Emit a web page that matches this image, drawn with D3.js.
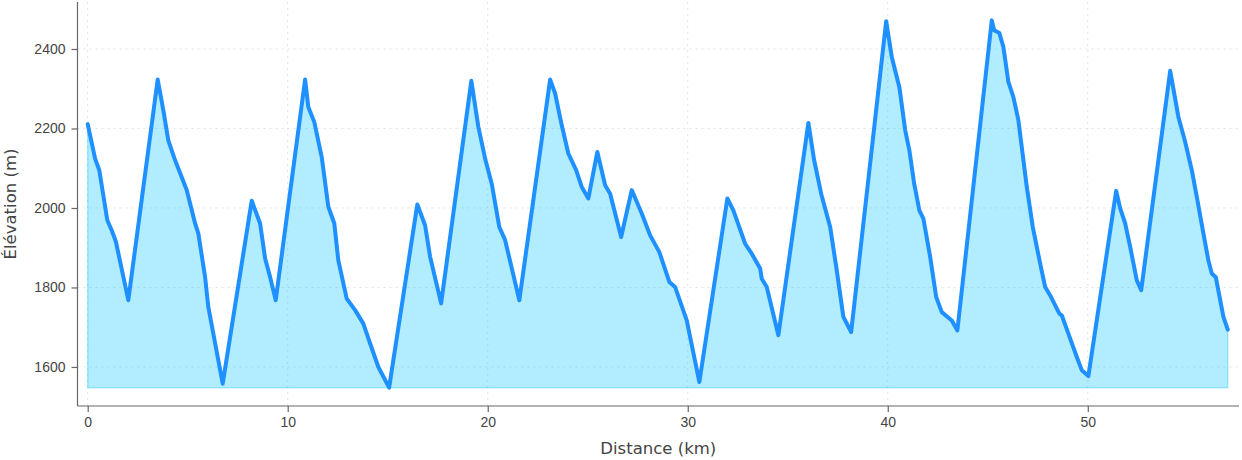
<!DOCTYPE html>
<html>
<head>
<meta charset="utf-8">
<script src="https://cdn.jsdelivr.net/npm/d3@7"></script>
<style>
  body { margin: 0; background: #fff; }
  svg { font-family: "DejaVu Sans", sans-serif; }
  .grid line { stroke: #e3e3e3; stroke-width: 1; stroke-dasharray: 2,4; }
  .axis path, .axis line { stroke: #666; stroke-width: 1.2; }
  .axis text { fill: #444; font-size: 14px; }
  .label { fill: #444; font-size: 16.5px; }
</style>
</head>
<body>
<div id="chart"></div>
<script>
var distKm = [0, 0.37, 0.58, 0.98, 1.2, 1.41, 2.03, 3.5, 3.78, 4.03, 4.37, 4.95, 5.37, 5.53, 5.87, 6.03, 6.28, 6.75,
  8.2, 8.62, 8.87, 9.12, 9.4, 10.87, 11.03, 11.33, 11.7, 12.03, 12.33, 12.53, 12.95, 13.37, 13.78, 14.12, 14.53, 15.07,
  16.48, 16.87, 17.12, 17.67, 19.18, 19.53, 19.87, 20.2, 20.58, 20.87, 21.58, 23.12, 23.37, 23.7, 24.03, 24.42, 24.7, 25.03,
  25.48, 25.87, 26.12, 26.67, 27.2, 27.7, 28.12, 28.58, 29.08, 29.37, 29.95, 30.12, 30.58, 31.98, 32.28, 32.87, 33.2, 33.62,
  33.7, 33.95, 34.53, 36.03, 36.32, 36.67, 37.12, 37.45, 37.78, 38.17, 39.92, 40.2, 40.58, 40.87, 41.08, 41.32, 41.58, 41.78,
  42.12, 42.42, 42.7, 43.2, 43.48, 45.2, 45.32, 45.58, 45.78, 46.03, 46.28, 46.53, 46.95, 47.25, 47.62, 47.87, 48.12, 48.58,
  48.7, 49.03, 49.45, 49.7, 50.03, 51.42, 51.62, 51.87, 52.12, 52.45, 52.67, 54.12, 54.53, 54.87, 55.2, 55.45, 55.78, 56.03,
  56.2, 56.4, 56.62, 56.78, 57.0];
var elevM = [2211, 2124, 2095, 1969, 1944, 1915, 1768, 2323, 2246, 2170, 2120, 2045, 1961, 1936, 1826, 1751, 1684, 1558,
  2018, 1961, 1873, 1826, 1768, 2323, 2254, 2216, 2128, 2003, 1961, 1868, 1772, 1743, 1709, 1659, 1600, 1548,
  2009, 1956, 1877, 1760, 2320, 2204, 2124, 2061, 1952, 1919, 1768, 2323, 2288, 2208, 2137, 2095, 2053, 2024,
  2141, 2057, 2036, 1927, 2045, 1986, 1931, 1889, 1814, 1801, 1717, 1675, 1562, 2024, 1994, 1910, 1885, 1848,
  1822, 1801, 1680, 2214, 2120, 2036, 1952, 1843, 1726, 1688, 2470, 2380, 2304, 2196, 2145, 2061, 1994, 1973,
  1877, 1776, 1738, 1717, 1692, 2472, 2447, 2440, 2405, 2317, 2279, 2221, 2053, 1952, 1860, 1801, 1780, 1734,
  1730, 1684, 1625, 1592, 1577, 2043, 1999, 1961, 1902, 1818, 1793, 2345, 2229, 2166, 2095, 2028, 1936, 1868,
  1835, 1826, 1768, 1726, 1694];
var xTicks = [0, 10, 20, 30, 40, 50];
var yTicks = [1600, 1800, 2000, 2200, 2400];

var width = 1242, height = 460;
var margin = {left: 77.5, right: 3, top: 2, bottom: 54};
var plotW = width - margin.left - margin.right;
var plotH = height - margin.top - margin.bottom;

var points = distKm.map(function (d, i) { return {km: d, elev: elevM[i]}; });
var minElev = d3.min(elevM), maxElev = d3.max(elevM);
var pad = (maxElev - minElev) * 0.05;

var xScale = d3.scaleLinear().domain([-0.51, 57.56]).range([0, plotW]);
var yScale = d3.scaleLinear().domain([minElev - pad, maxElev + pad]).range([plotH, 0]);

var svg = d3.select('#chart').append('svg')
    .attr('width', width)
    .attr('height', height);
var g = svg.append('g')
    .attr('transform', 'translate(' + margin.left + ',' + margin.top + ')');

// grid
g.append('g').attr('class', 'grid')
    .selectAll('line').data(xTicks).enter().append('line')
    .attr('x1', function (d) { return xScale(d); })
    .attr('x2', function (d) { return xScale(d); })
    .attr('y1', 0).attr('y2', plotH);
g.append('g').attr('class', 'grid')
    .selectAll('line').data(yTicks).enter().append('line')
    .attr('y1', function (d) { return yScale(d); })
    .attr('y2', function (d) { return yScale(d); })
    .attr('x1', 0).attr('x2', plotW);

// filled area down to the lowest point
var area = d3.area()
    .x(function (d) { return xScale(d.km); })
    .y0(yScale(minElev))
    .y1(function (d) { return yScale(d.elev); });
g.append('path')
    .datum(points)
    .attr('d', area)
    .attr('fill', 'rgba(0,191,255,0.3)')
    .attr('stroke', 'rgba(0,191,255,0.3)')
    .attr('stroke-width', 1.5);

var line = d3.line()
    .x(function (d) { return xScale(d.km); })
    .y(function (d) { return yScale(d.elev); });
g.append('path')
    .datum(points)
    .attr('d', line)
    .attr('fill', 'none')
    .attr('stroke', '#1E90FF')
    .attr('stroke-width', 4)
    .attr('stroke-linejoin', 'round')
    .attr('stroke-linecap', 'round');

// axes
var xAxis = g.append('g').attr('class', 'axis')
    .attr('transform', 'translate(0,' + plotH + ')')
    .call(d3.axisBottom(xScale).tickValues(xTicks).tickFormat(d3.format('d'))
        .tickSize(6).tickPadding(5).tickSizeOuter(0));
xAxis.select('.domain').attr('d', 'M0,0H' + plotW);

var yAxis = g.append('g').attr('class', 'axis')
    .call(d3.axisLeft(yScale).tickValues(yTicks).tickFormat(d3.format('d'))
        .tickSize(6).tickPadding(6).tickSizeOuter(0));
yAxis.select('.domain').attr('d', 'M0,0V' + plotH);
svg.selectAll('.axis text').attr('font-family', null);

svg.append('text').attr('class', 'label')
    .attr('x', margin.left + plotW / 2)
    .attr('y', 454)
    .attr('text-anchor', 'middle')
    .text('Distance (km)');
svg.append('text').attr('class', 'label')
    .attr('transform', 'translate(16,' + (margin.top + plotH / 2) + ') rotate(-90)')
    .attr('text-anchor', 'middle')
    .text('Élévation (m)');
</script>
</body>
</html>
